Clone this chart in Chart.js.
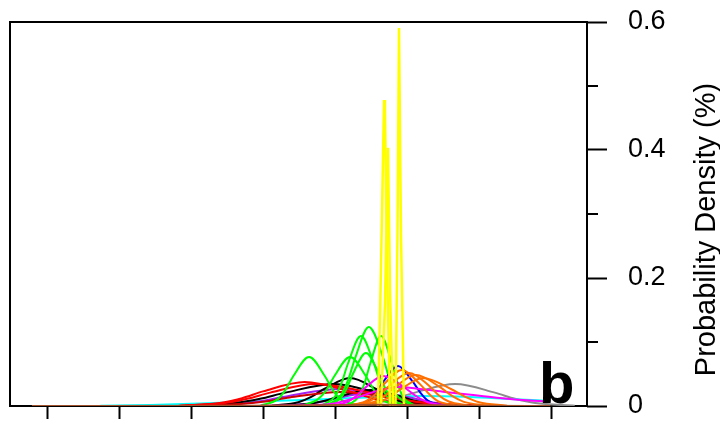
<!DOCTYPE html>
<html><head><meta charset="utf-8">
<script src="https://cdn.jsdelivr.net/npm/chart.js@4"></script>
<style>html,body{margin:0;padding:0;background:#fff}#wrap{width:720px;height:427px;position:relative}</style>
</head><body><div id="wrap"><canvas id="c" width="720" height="427"></canvas></div>
<script>
// ---- axis settings ----
const xTicks=[0,10,20,30,40,50,60,70];
const yMajorTicks=[0,0.2,0.4,0.6];
const yMinorTicks=[0.1,0.3,0.5];
const yTitle='Probability Density (%)';
const panelLabel='b';

// ---- density curves (x, density) ----
const g1X=[29.7,32.0,33.1,34.2,36.4,38.6,39.7,40.8,43.1];
const g1Y=[0.0008,0.0103,0.0249,0.0465,0.0766,0.0465,0.0249,0.0103,0.0008];
const g2X=[35.4,37.6,38.8,39.9,42.1,44.3,45.4,46.5,48.8];
const g2Y=[0.0008,0.0103,0.0249,0.0465,0.0766,0.0465,0.0249,0.0103,0.0008];
const g3X=[38.2,40.0,40.9,41.8,43.6,45.4,46.3,47.2,49.0];
const g3Y=[0.0012,0.0148,0.0356,0.0664,0.1094,0.0664,0.0356,0.0148,0.0012];
const g4X=[38.9,40.8,41.8,42.8,44.7,46.7,47.6,48.6,50.6];
const g4Y=[0.0014,0.0167,0.0401,0.0749,0.1234,0.0749,0.0401,0.0167,0.0014];
const g5X=[38.9,40.7,41.6,42.5,44.3,46.1,47.0,47.9,49.7];
const g5Y=[0.0009,0.0112,0.0269,0.0503,0.0828,0.0503,0.0269,0.0112,0.0009];
const g6X=[41.8,43.3,44.1,44.9,46.4,47.9,48.7,49.4,51.0];
const g6Y=[0.0012,0.0148,0.0356,0.0664,0.1094,0.0664,0.0356,0.0148,0.0012];

const y1X=[48.40,48.68,48.89,49.17,49.58];
const y1Y=[0,0.2658,0.5906,0.2658,0];
const y2X=[45.97,46.39,46.81,46.94,47.22,47.64];
const y2Y=[0,0.2151,0.478,0.4637,0.2151,0];
const y3X=[46.39,46.94,47.36,47.64,48.06];
const y3Y=[0,0.1614,0.4036,0.1816,0];

const bX=[42.5,44.6,45.6,46.7,48.75,50.8,51.9,52.9,55.0];
const bY=[0.0007,0.0084,0.0203,0.0379,0.0625,0.0379,0.0203,0.0084,0.0007];

const o1X=[41.8,44.3,45.6,46.8,49.3,51.8,53.1,54.3,56.8];
const o1Y=[0.0006,0.0076,0.0183,0.0342,0.0563,0.0342,0.0183,0.0076,0.0006];
const o2X=[41.9,44.7,46.1,47.5,50.3,53.1,54.4,55.8,58.6];
const o2Y=[0.0006,0.0070,0.0168,0.0313,0.0516,0.0313,0.0168,0.0070,0.0006];
const o3X=[42.5,45.4,46.9,48.3,51.25,54.6,56.25,57.9,61.25];
const o3Y=[0.0005,0.0065,0.0157,0.0294,0.0484,0.0294,0.0157,0.0065,0.0005];
const o4X=[43.1,46.1,47.6,49.2,52.2,56.1,58.1,60.0,63.9];
const o4Y=[0.0005,0.0059,0.0142,0.0266,0.0438,0.0266,0.0142,0.0059,0.0005];

const grayX=[40.0,45.6,48.3,51.1,56.7,62.2,65.0,67.8,73.3];
const grayY=[0.0004,0.0046,0.0112,0.0209,0.0344,0.0209,0.0112,0.0046,0.0004];

const m1X=[39.2,41.7,42.9,44.2,46.67,49.7,51.3,52.8,55.8];
const m1Y=[0.0005,0.0063,0.0152,0.0285,0.0469,0.0285,0.0152,0.0063,0.0005];
const m2X=[29.6,35.1,39.3,42.8,46.25,49.0,51.8,55.3,59.2,62.9,67.1,69.9];
const m2Y=[0.0003,0.0012,0.0031,0.0125,0.025,0.0297,0.0266,0.0219,0.0172,0.0125,0.0086,0.0070];

const cX=[7.4,14.3,21.25,31.0,39.3,46.25,51.8,58.75,64.3,69.9];
const cY=[0.0003,0.0016,0.0039,0.0078,0.0109,0.0141,0.0156,0.0141,0.0109,0.0078];

const r1X=[18.5,24.7,27.8,31.0,37.2,44.9,48.7,52.5,60.1];
const r1Y=[0.0004,0.0046,0.0112,0.0209,0.0344,0.0209,0.0112,0.0046,0.0004];
const r2X=[18.3,24.2,27.1,30.0,35.8,42.1,45.2,48.3,54.6];
const r2Y=[0.0004,0.0051,0.0122,0.0228,0.0375,0.0228,0.0122,0.0051,0.0004];
const r3X=[19.9,26.8,30.3,33.7,40.7,47.6,51.1,54.6,61.5];
const r3Y=[0.0002,0.0030,0.0071,0.0133,0.0219,0.0133,0.0071,0.0030,0.0002];

const k1X=[31.25,34.9,36.7,38.5,42.1,45.7,47.5,49.3,52.9];
const k1Y=[0.0005,0.0059,0.0142,0.0266,0.0438,0.0266,0.0142,0.0059,0.0005];
const k2X=[19.2,26.1,29.6,33.1,40.0,45.6,48.3,51.1,56.7];
const k2Y=[0.0004,0.0046,0.0112,0.0209,0.0344,0.0209,0.0112,0.0046,0.0004];
const k3X=[32.4,36.5,38.6,40.7,44.9,49.0,51.1,53.2,57.4];
const k3Y=[0.0003,0.0034,0.0081,0.0152,0.025,0.0152,0.0081,0.0034,0.0003];

const p1X=[19.9,26.8,30.3,33.75,40.7,46.9,50.1,53.2,59.4];
const p1Y=[0.0003,0.0036,0.0086,0.0161,0.0266,0.0161,0.0086,0.0036,0.0003];
const p2X=[31.0,35.8,38.3,40.7,45.6,50.4,52.9,55.3,60.1];
const p2Y=[0.0002,0.0030,0.0071,0.0133,0.0219,0.0133,0.0071,0.0030,0.0002];

const brX=[-2.1,28.2,46.25,60.1,69.9];
const brY=[0,0.0005,0.002,0.0005,0];

// ---- build datasets (bottom -> top) ----
const pts=(xs,ys)=>xs.map((x,i)=>({x:x,y:ys[i]}));
const ds=(xs,ys,color,sharp)=>({data:pts(xs,ys),borderColor:color,borderWidth:sharp?2.5:2,pointRadius:0,fill:false,
  tension:sharp?0:0.4,cubicInterpolationMode:sharp?'default':'monotone'});
const layers=[
  ds(grayX,grayY,'#8c8c8c'),
  ds(cX,cY,'#00ffff'),
  ds(p1X,p1Y,'#a020f0'),
  ds(p2X,p2Y,'#a020f0'),
  ds(k2X,k2Y,'#000000'),
  ds(k3X,k3Y,'#000000'),
  ds(k1X,k1Y,'#000000'),
  ds(r3X,r3Y,'#cc0000'),
  ds(r2X,r2Y,'#ff0000'),
  ds(r1X,r1Y,'#ff0000'),
  ds(g1X,g1Y,'#00ff00'),
  ds(g2X,g2Y,'#00ff00'),
  ds(g5X,g5Y,'#00ff00'),
  ds(g3X,g3Y,'#00ff00'),
  ds(g4X,g4Y,'#00ff00'),
  ds(g6X,g6Y,'#00ff00'),
  ds(bX,bY,'#0000ff'),
  ds(m2X,m2Y,'#ff00ff'),
  ds(m1X,m1Y,'#ff00ff'),
  ds(o1X,o1Y,'#ff7000'),
  ds(o2X,o2Y,'#ff7000'),
  ds(o3X,o3Y,'#ff7000'),
  ds(o4X,o4Y,'#ff7000'),
  ds(y2X,y2Y,'#ffff00',true),
  ds(y3X,y3Y,'#ffff00',true),
  ds(y1X,y1Y,'#ffff00',true),
  ds(brX,brY,'#a0522d')
];
const datasets=layers.slice().reverse();

const FONT='"Liberation Sans", Arial, sans-serif';
const frame={
  id:'frame',
  beforeDatasetsDraw(chart){
    const {ctx,chartArea:a,scales}=chart;
    ctx.save();
    ctx.strokeStyle='#000';ctx.lineWidth=2;
    ctx.strokeRect(a.left,a.top,a.right-a.left,a.bottom-a.top);
    ctx.beginPath();
    yMinorTicks.forEach(v=>{const py=Math.round(scales.y.getPixelForValue(v));ctx.moveTo(a.right,py);ctx.lineTo(a.right+11,py);});
    ctx.stroke();
    ctx.restore();
  },
  afterDraw(chart){
    const {ctx,chartArea:a}=chart;
    ctx.save();
    ctx.fillStyle='#000';
    ctx.font='bold 58px '+FONT;
    ctx.textAlign='left';ctx.textBaseline='alphabetic';
    ctx.fillText(panelLabel,a.right-48,a.bottom-3);
    ctx.font='29px '+FONT;
    ctx.translate(707,229.5);
    ctx.rotate(-Math.PI/2);
    ctx.textAlign='center';ctx.textBaseline='middle';
    ctx.fillText(yTitle,0,0);
    ctx.restore();
  }
};

new Chart(document.getElementById('c'),{
  type:'line',
  data:{datasets:datasets},
  options:{
    responsive:false,animation:false,devicePixelRatio:1,
    layout:{padding:{left:10,top:22,right:0,bottom:0}},
    plugins:{legend:{display:false},tooltip:{enabled:false}},
    scales:{
      x:{type:'linear',min:-5.14,max:75,
        afterBuildTicks:s=>{s.ticks=xTicks.map(v=>({value:v}));},
        afterFit:s=>{s.height=21;s.paddingLeft=0;s.paddingRight=0;},
        ticks:{display:false},
        border:{display:false},
        grid:{drawOnChartArea:false,drawTicks:true,tickLength:13,tickColor:'#000',tickWidth:2}},
      y:{position:'right',min:0,max:0.6,
        afterBuildTicks:s=>{s.ticks=yMajorTicks.map(v=>({value:v}));},
        afterFit:s=>{s.width=133;s.paddingTop=0;s.paddingBottom=0;},
        border:{display:false},
        grid:{drawOnChartArea:false,tickLength:20,tickColor:'#000',tickWidth:2},
        ticks:{padding:21,color:'#000',font:{family:FONT,size:27},
          callback:v=>String(v)}}
    }
  },
  plugins:[frame]
});
</script>
</body></html>
